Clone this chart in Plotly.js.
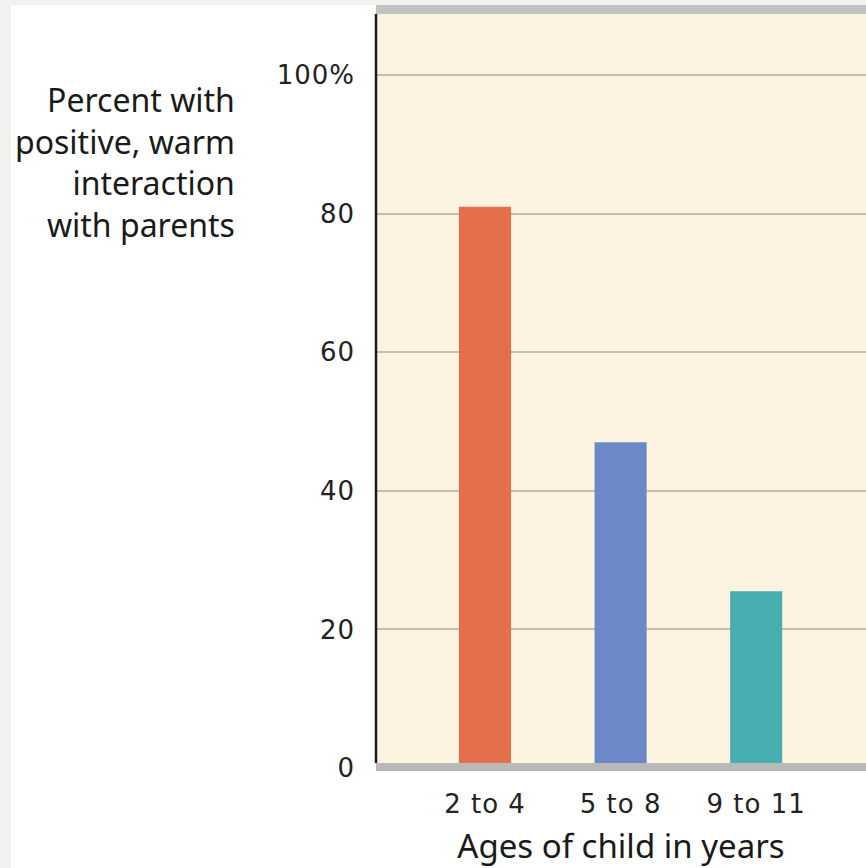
<!DOCTYPE html>
<html>
<head>
<meta charset="utf-8">
<script src="https://cdn.plot.ly/plotly-3.0.1.min.js"></script>
<style>
  html, body { margin: 0; padding: 0; background: #f1f1ef; width: 866px; height: 868px; overflow: hidden; }
  #chart { position: absolute; left: 11px; top: 5px; width: 855px; height: 863px; }
  #chart .xtick text, #chart .ytick text { letter-spacing: 1px; }
</style>
</head>
<body>
<div id="chart"></div>
<script>
const categories = ["2 to 4", "5 to 8", "9 to 11"];
const values = [81, 47, 25.5];
const barColors = ["#e4704b", "#6c88c6", "#46adb0"];
const yTickVals = [0, 20, 40, 60, 80, 100];
const yTickText = ["0", "20", "40", "60", "80", "100%"];
const yTitleLines = ["Percent with", "positive, warm", "interaction", "with parents"];
const xTitle = "Ages of child in years";

const yMin = -0.43, yMax = 110.1, yTopBand = 108.8, yBottomBand = 0.72;

const trace = {
  type: "bar",
  x: categories.map((c, i) => i),
  y: values,
  width: 0.384,
  marker: { color: barColors, line: { width: 0 } },
  hoverinfo: "skip"
};

const layout = {
  width: 855, height: 863,
  margin: { l: 365, r: 0, t: 0, b: 97 },
  paper_bgcolor: "#ffffff",
  plot_bgcolor: "#fdf3e1",
  showlegend: false,
  xaxis: {
    range: [-0.804, 2.81],
    tickvals: [0, 1, 2],
    ticktext: categories,
    showgrid: false, zeroline: false, showline: false,
    ticks: "", ticklabelstandoff: 15,
    tickfont: { family: "DejaVu Sans", size: 26, color: "#222" },
    title: { text: xTitle, font: { family: "Noto Sans", size: 33, color: "#1a1a1a" }, standoff: 18 },
    fixedrange: true
  },
  yaxis: {
    range: [yMin, yMax],
    tickvals: yTickVals,
    ticktext: yTickText,
    showgrid: true, gridcolor: "#c6bea9", gridwidth: 2,
    zeroline: false, showline: false,
    ticks: "", ticklabelstandoff: 20,
    tickfont: { family: "DejaVu Sans", size: 26, color: "#222" },
    fixedrange: true
  },
  shapes: [
    { type: "rect", xref: "paper", yref: "y", x0: 0, x1: 1, y0: yTopBand, y1: yMax,
      fillcolor: "#c2c2c2", line: { width: 0 }, layer: "above" },
    { type: "rect", xref: "paper", yref: "y", x0: 0, x1: 1, y0: yMin, y1: yBottomBand,
      fillcolor: "#b9b9b9", line: { width: 0 }, layer: "above" },
    { type: "line", xref: "paper", yref: "y", x0: 0, x1: 0, y0: yBottomBand, y1: yTopBand,
      line: { color: "#1c1c1c", width: 2.5 }, layer: "above" }
  ],
  annotations: [
    { xref: "paper", yref: "paper", x: -0.2837, y: 0.907, xanchor: "right", yanchor: "top",
      align: "right", showarrow: false, text: yTitleLines.join("<br>"),
      font: { family: "Noto Sans", size: 32, color: "#1a1a1a" } }
  ]
};

Plotly.newPlot("chart", [trace], layout, { displayModeBar: false, staticPlot: true });
</script>
</body>
</html>
